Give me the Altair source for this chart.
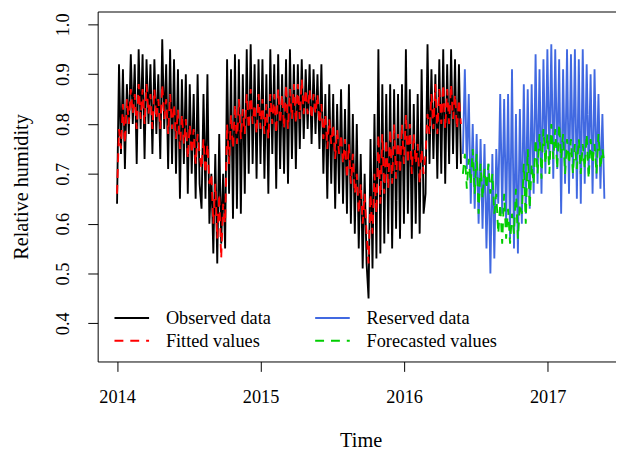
import altair as alt
import pandas as pd

STEP_DAYS = 5          # spacing of the values (days)
OBS_START_DAY = 0      # 2014-01-01
RES_START_DAY = 880    # 2016-05-30

observed = [
    0.64, 0.92, 0.74, 0.91, 0.71, 0.88,
    0.78, 0.94, 0.80, 0.92, 0.72, 0.95,
    0.79, 0.94, 0.73, 0.93, 0.80, 0.92,
    0.74, 0.93, 0.78, 0.90, 0.73, 0.97,
    0.79, 0.92, 0.71, 0.95, 0.72, 0.93,
    0.70, 0.91, 0.65, 0.89, 0.72, 0.90,
    0.66, 0.88, 0.70, 0.86, 0.65, 0.90, 0.68,
    0.63, 0.86, 0.65, 0.90, 0.60, 0.70,
    0.54, 0.74, 0.52, 0.78, 0.56, 0.70,
    0.55, 0.93, 0.66, 0.91, 0.61, 0.94,
    0.63, 0.93, 0.62, 0.90, 0.66, 0.95,
    0.70, 0.96, 0.72, 0.92, 0.69, 0.93,
    0.72, 0.93, 0.69, 0.90, 0.66, 0.95, 0.74,
    0.92, 0.67, 0.94, 0.71, 0.90, 0.70,
    0.93, 0.68, 0.95, 0.73, 0.92, 0.71,
    0.92, 0.75, 0.93, 0.77, 0.91, 0.79,
    0.92, 0.76, 0.91, 0.78, 0.90, 0.75,
    0.92, 0.70, 0.86, 0.65, 0.88, 0.68,
    0.86, 0.63, 0.84, 0.66, 0.87, 0.64,
    0.83, 0.62, 0.88, 0.60, 0.82, 0.58,
    0.80, 0.55, 0.74, 0.51, 0.70, 0.52,
    0.45, 0.77, 0.51, 0.82, 0.53, 0.95, 0.54,
    0.88, 0.56, 0.86, 0.58, 0.88, 0.55,
    0.87, 0.59, 0.86, 0.57, 0.88, 0.60,
    0.95, 0.62, 0.87, 0.57, 0.84, 0.60,
    0.86, 0.58, 0.91, 0.62, 0.66, 0.96,
    0.72, 0.91, 0.73, 0.90, 0.69, 0.93,
    0.70, 0.95, 0.68, 0.92, 0.72, 0.95,
    0.74, 0.93, 0.71, 0.92, 0.72,
]

# Fitted values (same days as observed)
fitted = [
    0.66, 0.79, 0.75, 0.84, 0.76, 0.85,
    0.80, 0.87, 0.82, 0.86, 0.79, 0.88,
    0.81, 0.87, 0.80, 0.88, 0.82, 0.86,
    0.79, 0.87, 0.81, 0.85, 0.79, 0.88,
    0.81, 0.85, 0.78, 0.86, 0.79, 0.84,
    0.77, 0.83, 0.75, 0.82, 0.76, 0.81,
    0.73, 0.80, 0.74, 0.79, 0.72, 0.78, 0.74,
    0.71, 0.77, 0.70, 0.76, 0.68, 0.70,
    0.60, 0.68, 0.57, 0.66, 0.53, 0.64,
    0.60, 0.80, 0.72, 0.82, 0.75, 0.84,
    0.76, 0.85, 0.77, 0.83, 0.78, 0.86,
    0.79, 0.87, 0.80, 0.84, 0.78, 0.86,
    0.79, 0.85, 0.78, 0.84, 0.77, 0.86, 0.80,
    0.86, 0.78, 0.87, 0.80, 0.86, 0.79,
    0.88, 0.79, 0.87, 0.81, 0.88, 0.80,
    0.88, 0.81, 0.89, 0.82, 0.87, 0.82,
    0.87, 0.81, 0.86, 0.82, 0.86, 0.80,
    0.84, 0.77, 0.82, 0.75, 0.81, 0.76,
    0.80, 0.73, 0.79, 0.74, 0.78, 0.72,
    0.77, 0.69, 0.76, 0.68, 0.74, 0.66,
    0.70, 0.62, 0.68, 0.60, 0.66, 0.58,
    0.52, 0.66, 0.58, 0.70, 0.62, 0.78, 0.64,
    0.78, 0.66, 0.77, 0.67, 0.79, 0.68,
    0.80, 0.69, 0.78, 0.70, 0.80, 0.72,
    0.82, 0.72, 0.80, 0.70, 0.78, 0.72,
    0.76, 0.68, 0.75, 0.70, 0.74, 0.82,
    0.78, 0.86, 0.79, 0.88, 0.78, 0.87,
    0.80, 0.88, 0.79, 0.87, 0.80, 0.88,
    0.81, 0.86, 0.79, 0.85, 0.80,
]

# Reserved data (2016-05-30 .. 2017-05)
reserved = [
    0.74, 0.91, 0.71, 0.86, 0.64, 0.80,
    0.63, 0.78, 0.60, 0.77, 0.59, 0.76,
    0.55, 0.72, 0.50, 0.74, 0.53, 0.75,
    0.64, 0.86, 0.62, 0.85, 0.60, 0.86,
    0.57, 0.91, 0.55, 0.82, 0.54, 0.83,
    0.60, 0.88, 0.62, 0.87, 0.63, 0.88,
    0.66, 0.94, 0.68, 0.91, 0.66, 0.93,
    0.70, 0.95, 0.72, 0.96, 0.69, 0.95,
    0.71, 0.93, 0.62, 0.91, 0.68, 0.95,
    0.66, 0.94, 0.69, 0.95, 0.65, 0.93,
    0.64, 0.95, 0.68, 0.92, 0.70, 0.90,
    0.66, 0.91, 0.69, 0.86, 0.67, 0.82,
    0.65,
]

# Forecasted values (same days as reserved)
forecast = [
    0.70, 0.74, 0.67, 0.73, 0.68, 0.75,
    0.66, 0.74, 0.62, 0.72, 0.65, 0.71,
    0.67, 0.72, 0.66, 0.70, 0.62, 0.66,
    0.58, 0.64, 0.56, 0.66, 0.57, 0.63,
    0.56, 0.62, 0.58, 0.67, 0.57, 0.64,
    0.62, 0.72, 0.60, 0.75, 0.63, 0.72,
    0.68, 0.77, 0.70, 0.78, 0.69, 0.79,
    0.72, 0.78, 0.70, 0.80, 0.73, 0.79,
    0.71, 0.80, 0.73, 0.78, 0.70, 0.77,
    0.72, 0.77, 0.70, 0.76, 0.71, 0.77,
    0.70, 0.76, 0.71, 0.78, 0.69, 0.77,
    0.72, 0.76, 0.70, 0.78, 0.71, 0.75,
    0.72,
]

names = ["Observed data", "Fitted values", "Reserved data", "Forecasted values"]
colors = ["#000000", "#FF0000", "#4169E1", "#00CD00"]
dashes = [[1, 0], [9, 7], [1, 0], [9, 7]]
x_ticks = [2014, 2015, 2016, 2017]
y_ticks = [0.4, 0.5, 0.6, 0.7, 0.8, 0.9, 1.0]


def frame(values, start_day, name):
    return pd.DataFrame({
        "t": [2014 + (start_day + i * STEP_DAYS) / 365.25 for i in range(len(values))],
        "v": values,
        "series": name,
    })


frames = {
    "Observed data": frame(observed, OBS_START_DAY, "Observed data"),
    "Fitted values": frame(fitted, OBS_START_DAY, "Fitted values"),
    "Reserved data": frame(reserved, RES_START_DAY, "Reserved data"),
    "Forecasted values": frame(forecast, RES_START_DAY, "Forecasted values"),
}

FONT = "Liberation Serif"
FS = 18.5
TFS = 20.5

xscale = alt.Scale(domain=[2013.865, 2017.476], nice=False, zero=False)
yscale = alt.Scale(domain=[0.3234, 1.0258], nice=False, zero=False)

x_axis = alt.Axis(
    values=x_ticks, format="d", title="Time", grid=False,
    tickSize=10, tickColor="black", tickWidth=1,
    domainColor="black", domainWidth=1,
    labelFont=FONT, labelFontSize=FS, labelColor="black", labelPadding=16,
    titleFont=FONT, titleFontSize=TFS, titleFontWeight="normal", titleColor="black",
    titleX=266, titleY=86, titleAlign="center", titleBaseline="alphabetic",
)
y_axis = alt.Axis(
    values=y_ticks, format=".1f", title="Relative humidity", grid=False,
    tickSize=10, tickColor="black", tickWidth=1,
    domainColor="black", domainWidth=1,
    labelFont=FONT, labelFontSize=FS, labelColor="black", labelAngle=270,
    labelPadding=15,
    titleFont=FONT, titleFontSize=TFS, titleFontWeight="normal", titleColor="black",
    titleAngle=270, titleX=-77, titleY=177, titleAlign="center", titleBaseline="middle",
)

legend = alt.Legend(
    title=None, orient="none", legendX=16, legendY=299, columns=2,
    symbolType="stroke", symbolSize=1225, symbolStrokeWidth=2,
    labelFont=FONT, labelFontSize=FS, labelColor="black", labelOffset=16,
    columnPadding=43, rowPadding=1, padding=0, clipHeight=22,
)

color = alt.Color("series:N", scale=alt.Scale(domain=names, range=colors), legend=legend)
dash = alt.StrokeDash("series:N", scale=alt.Scale(domain=names, range=dashes), legend=legend)


def layer(name):
    return alt.Chart(frames[name]).mark_line(strokeWidth=1.9).encode(
        x=alt.X("t:Q", scale=xscale, axis=x_axis),
        y=alt.Y("v:Q", scale=yscale, axis=y_axis),
        color=color,
        strokeDash=dash,
    )


lines = alt.layer(
    layer("Observed data"),
    layer("Fitted values"),
    layer("Reserved data"),
    layer("Forecasted values"),
)

top = alt.Chart(pd.DataFrame({"t": [2015.0], "v": [0.7]})).mark_point(opacity=0).encode(
    x=alt.X("t:Q", scale=xscale, axis=alt.Axis(orient="top", labels=False, ticks=False,
                                               grid=False, domain=True, domainColor="black",
                                               title=None)),
    y=alt.Y("v:Q", scale=yscale, axis=y_axis),
)

chart = alt.layer(lines, top).resolve_axis(x="independent").properties(
    width=524.3, height=354,
    autosize=alt.AutoSizeParams(type="none"),
    padding={"left": 90.7, "top": 1, "right": 0, "bottom": 89},
    background="white",
).configure_view(stroke=None)

chart.save("out.html", embed_options={"renderer": "svg", "actions": False})
